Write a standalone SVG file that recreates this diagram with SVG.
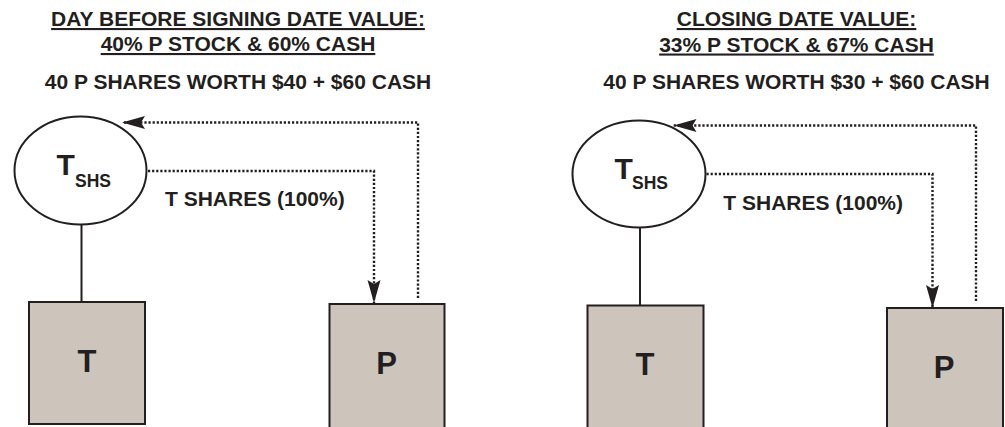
<svg xmlns="http://www.w3.org/2000/svg" width="1005" height="427" viewBox="0 0 1005 427">
  <style>
    text { font-family: "Liberation Sans", Arial, sans-serif; font-weight: bold; fill: #231f20; }
    .title { font-size: 21px; text-anchor: middle; text-decoration: underline; }
    .sub { font-size: 21px; text-anchor: middle; }
    .lbl { font-size: 21px; }
    .big { font-size: 30px; }
    .idx { font-size: 17.5px; }
    .box-label { font-size: 31px; text-anchor: middle; }
    .entity { fill: #cdc5bc; stroke: #231f20; stroke-width: 2; }
    .holder { fill: #ffffff; stroke: #231f20; stroke-width: 2; }
    .own { fill: none; stroke: #231f20; stroke-width: 2; }
    .flow { fill: none; stroke: #231f20; stroke-width: 2.4; stroke-dasharray: 2.2 1.9; marker-end: url(#arrow); }
  </style>
  <defs>
    <marker id="arrow" markerUnits="userSpaceOnUse" markerWidth="26" markerHeight="16" refX="23" refY="8" orient="auto">
      <path d="M0,1.5 L23,8 L0,14.5 L4,8 Z" fill="#231f20"/>
    </marker>
  </defs>

  <rect width="1005" height="427" fill="#ffffff"/>

  <!-- Left scenario headings -->
  <g id="left-heading">
    <text class="title" x="238" y="26">DAY BEFORE SIGNING DATE VALUE:</text>
    <text class="title" x="238" y="51">40% P STOCK &amp; 60% CASH</text>
    <text class="sub" x="238" y="88.5">40 P SHARES WORTH $40 + $60 CASH</text>
  </g>

  <!-- Right scenario headings -->
  <g id="right-heading">
    <text class="title" x="796.5" y="26">CLOSING DATE VALUE:</text>
    <text class="title" x="796.5" y="51.5">33% P STOCK &amp; 67% CASH</text>
    <text class="sub" x="796.5" y="89.3">40 P SHARES WORTH $30 + $60 CASH</text>
  </g>

  <!-- Connectors -->
  <g id="connectors">
    <line class="own" x1="81.5" y1="224.5" x2="81.5" y2="302"/>
    <path class="flow" d="M148,171 H374 V303"/>
    <path class="flow" d="M418,298 V122.5 H122"/>
    <text class="lbl" x="165" y="206">T SHARES (100%)</text>

    <line class="own" x1="640" y1="227.5" x2="640" y2="305.5"/>
    <path class="flow" d="M706.5,174 H932.5 V308"/>
    <path class="flow" d="M976,301 V125.5 H673.5"/>
    <text class="lbl" x="723.3" y="210">T SHARES (100%)</text>
  </g>

  <!-- Left: T shareholders -->
  <g id="left-tshs">
    <ellipse class="holder" cx="80.5" cy="170.5" rx="66" ry="54"/>
    <text class="big" x="56.5" y="175">T</text>
    <text class="idx" x="75" y="186.7">SHS</text>
  </g>
  <!-- Left: T -->
  <g id="left-t">
    <rect class="entity" x="29" y="302" width="116" height="122"/>
    <text class="box-label" x="87" y="371.7">T</text>
  </g>
  <!-- Left: P -->
  <g id="left-p">
    <rect class="entity" x="329.5" y="304" width="115" height="130"/>
    <text class="box-label" x="386.7" y="374">P</text>
  </g>

  <!-- Right: T shareholders -->
  <g id="right-tshs">
    <ellipse class="holder" cx="639" cy="174" rx="66.5" ry="53.5"/>
    <text class="big" x="614.5" y="178.5">T</text>
    <text class="idx" x="632" y="189.3">SHS</text>
  </g>
  <!-- Right: T -->
  <g id="right-t">
    <rect class="entity" x="587.5" y="305.5" width="116" height="130"/>
    <text class="box-label" x="645" y="375">T</text>
  </g>
  <!-- Right: P -->
  <g id="right-p">
    <rect class="entity" x="887" y="308" width="116" height="130"/>
    <text class="box-label" x="944" y="377.7">P</text>
  </g>
</svg>
